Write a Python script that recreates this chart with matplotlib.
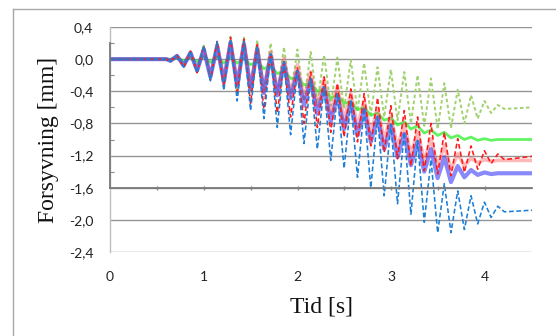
import numpy as np
import matplotlib.pyplot as plt
from matplotlib.lines import Line2D

# times of the peaks / troughs [s]
t_ext = [0.644, 0.715, 0.786, 0.858, 0.929, 1.000, 1.071, 1.143, 1.214, 1.285,
         1.356, 1.428, 1.499, 1.570, 1.641, 1.713, 1.784, 1.855, 1.926, 1.998,
         2.069, 2.140, 2.211, 2.283, 2.354, 2.425, 2.496, 2.568, 2.639, 2.710,
         2.781, 2.853, 2.924, 2.995, 3.066, 3.138, 3.209, 3.280, 3.351, 3.423,
         3.494, 3.565, 3.636, 3.708, 3.779, 3.850, 3.921, 3.993, 4.064, 4.135,
         4.206]
t_start = [0.0, 0.60]
t_end = [4.5]

# deflection [mm] at each extremum
green_dot = [-0.03, 0.05, -0.10, 0.10, -0.17, 0.17, -0.26, 0.22, -0.33, 0.28,
             -0.38, 0.28, -0.40, 0.24, -0.42, 0.20, -0.45, 0.15, -0.48, 0.12,
             -0.52, 0.09, -0.55, 0.05, -0.58, 0.02, -0.62, -0.01, -0.65, -0.05,
             -0.69, -0.10, -0.72, -0.13, -0.76, -0.16, -0.80, -0.20, -0.83, -0.24,
             -0.87, -0.30, -0.86, -0.38, -0.80, -0.45, -0.74, -0.52, -0.67, -0.57,
             -0.62]
green_dot_end = -0.60

green_line = [0.00, 0.01, -0.02, 0.02, -0.03, 0.03, -0.04, 0.03, -0.05, 0.02,
              -0.05, 0.01, -0.07, -0.03, -0.12, -0.08, -0.18, -0.15, -0.24, -0.23,
              -0.32, -0.30, -0.40, -0.38, -0.48, -0.45, -0.55, -0.53, -0.63, -0.60,
              -0.70, -0.67, -0.76, -0.73, -0.82, -0.78, -0.87, -0.83, -0.92, -0.88,
              -0.95, -0.91, -0.98, -0.95, -1.00, -0.97, -1.01, -0.99, -1.01, -1.00,
              -1.00]
green_line_end = -1.00

red_dash = [-0.03, 0.05, -0.10, 0.10, -0.17, 0.17, -0.26, 0.22, -0.35, 0.27,
            -0.45, 0.25, -0.55, 0.18, -0.62, 0.07, -0.67, -0.05, -0.72, -0.10,
            -0.80, -0.16, -0.85, -0.22, -0.91, -0.30, -0.97, -0.37, -1.03, -0.43,
            -1.08, -0.48, -1.16, -0.58, -1.24, -0.64, -1.33, -0.72, -1.39, -0.80,
            -1.43, -0.91, -1.45, -0.99, -1.41, -1.08, -1.37, -1.14, -1.30, -1.18,
            -1.25]
red_dash_end = -1.21

red_line = [-0.02, 0.04, -0.08, 0.08, -0.14, 0.13, -0.21, 0.18, -0.26, 0.22,
            -0.30, 0.21, -0.34, 0.16, -0.38, 0.09, -0.40, 0.01, -0.42, -0.07,
            -0.49, -0.16, -0.58, -0.25, -0.67, -0.34, -0.76, -0.43, -0.84, -0.52,
            -0.92, -0.61, -1.00, -0.71, -1.10, -0.80, -1.19, -0.90, -1.27, -0.99,
            -1.34, -1.07, -1.38, -1.18, -1.33, -1.23, -1.29, -1.25, -1.27, -1.26,
            -1.26]
red_line_end = -1.26

blue_line = [-0.02, 0.04, -0.08, 0.08, -0.14, 0.12, -0.22, 0.16, -0.28, 0.20,
             -0.33, 0.18, -0.38, 0.12, -0.42, 0.04, -0.45, -0.06, -0.49, -0.16,
             -0.58, -0.26, -0.68, -0.36, -0.78, -0.45, -0.87, -0.54, -0.95, -0.63,
             -1.03, -0.73, -1.12, -0.83, -1.22, -0.93, -1.32, -1.03, -1.40, -1.12,
             -1.48, -1.22, -1.53, -1.33, -1.47, -1.38, -1.44, -1.41, -1.43, -1.42,
             -1.42]
blue_line_end = -1.42

blue_dash = [-0.03, 0.05, -0.10, 0.10, -0.17, 0.17, -0.27, 0.22, -0.39, 0.25,
             -0.52, 0.22, -0.64, 0.15, -0.74, 0.07, -0.85, -0.03, -0.94, -0.14,
             -1.05, -0.24, -1.12, -0.34, -1.26, -0.43, -1.36, -0.52, -1.47, -0.61,
             -1.60, -0.71, -1.70, -0.81, -1.80, -0.91, -1.93, -1.01, -2.03, -1.25,
             -2.16, -1.55, -2.16, -1.64, -2.12, -1.70, -2.05, -1.78, -1.97, -1.83,
             -1.90]
blue_dash_end = -1.88

y_ticks = [0.4, 0.0, -0.4, -0.8, -1.2, -1.6, -2.0, -2.4]
x_ticks = [0, 1, 2, 3, 4]


def full(vals, end):
    t = t_start + t_ext + t_end
    v = [0.0, 0.0] + vals + [end]
    return t, v


fig = plt.figure(figsize=(5.56, 3.36), dpi=100)
ax = fig.add_axes([110 / 556, 1 - 252 / 336, 422 / 556, 225 / 336])

for yt in y_ticks:
    ax.axhline(yt, color='#959595', lw=1.0, zorder=1)

series = [
    (green_dot, green_dot_end, dict(color='#A2D270', lw=1.4, ls=(0, (1.8, 1.3)))),
    (green_line, green_line_end, dict(color='#2EF02E', lw=2.0, alpha=0.75)),
    (red_line, red_line_end, dict(color='#FF6060', lw=2.6, alpha=0.45)),
    (blue_line, blue_line_end, dict(color='#3A3AF5', lw=3.0, alpha=0.6)),
    (red_dash, red_dash_end, dict(color='#FF1A1A', lw=1.15, ls=(0, (3, 1.8)))),
    (blue_dash, blue_dash_end, dict(color='#1E7FD6', lw=1.15, ls=(0, (3, 1.6)))),
]
for vals, end, kw in series:
    t, v = full(vals, end)
    ax.plot(t, v, zorder=3, solid_joinstyle='round', dash_joinstyle='round', **kw)

ax.set_xlim(0, 4.5)
ax.set_ylim(-2.4, 0.4)
ax.set_yticks(y_ticks)
ax.set_yticklabels([f'{y:.1f}'.replace('.', ',') for y in y_ticks])
ax.set_xticks(x_ticks)
ax.set_xticklabels([str(x) for x in x_ticks])
ax.tick_params(length=0, labelsize=10, colors='#222222')
ax.tick_params(axis='y', pad=12)
ax.tick_params(axis='x', pad=14)
for lab in ax.get_xticklabels() + ax.get_yticklabels():
    lab.set_fontfamily('Lato')
for side in ['top', 'right', 'bottom']:
    ax.spines[side].set_visible(False)
ax.spines['left'].set_color('#BEBEBE')
ax.spines['left'].set_linewidth(1.0)

ax.set_xlabel('Tid [s]', family='Liberation Serif', fontsize=17, color='#111111')
ax.xaxis.set_label_coords(0.5, -0.196)
ax.set_ylabel('Forsyvning [mm]', family='Liberation Serif', fontsize=17, color='#111111')
ax.yaxis.set_label_coords(-0.122, 0.5)

# overlaid inner axis frame (0,2 .. -1,6)
inner = ax.inset_axes([0, -1.6, 4.5, 1.8], transform=ax.transData)
inner.set_xlim(0, 4.5)
inner.set_ylim(-1.6, 0.2)
inner.patch.set_visible(False)
for side in ['top', 'right']:
    inner.spines[side].set_visible(False)
for side in ['left', 'bottom']:
    inner.spines[side].set_color('#7A7A7A')
    inner.spines[side].set_linewidth(1.3)
inner.set_yticks([0.2, -0.2, -0.6, -1.0, -1.4])
inner.set_xticks([0.5, 1.0, 1.5, 2.0, 2.5, 3.0, 3.5, 4.0])
inner.tick_params(axis='y', direction='in', length=3, width=0.8, colors='#8A8A8A',
                  labelleft=False)
inner.tick_params(axis='x', direction='inout', length=3, width=1.0, colors='#8A8A8A',
                  labelbottom=False)

# chart area border (left and top only visible)
fig.add_artist(Line2D([13 / 556, 13 / 556], [0, 1 - 9 / 336], color='#A8A8A8', lw=1.0))
fig.add_artist(Line2D([13 / 556, 1], [1 - 9 / 336, 1 - 9 / 336], color='#A8A8A8', lw=1.0))

fig.savefig('out.png', dpi=100)
